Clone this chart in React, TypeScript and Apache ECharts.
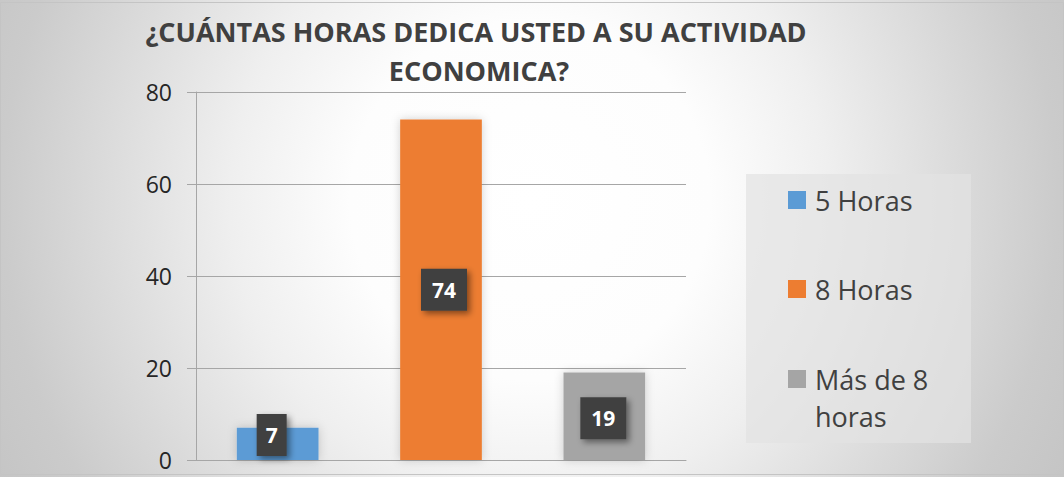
import React, { useEffect, useRef } from "react";
import * as echarts from "echarts";

const titleLines = ["¿CUÁNTAS HORAS DEDICA USTED A SU ACTIVIDAD", "ECONOMICA?"];
const categories = ["5 Horas", "8 Horas", "Más de 8 horas"];
const seriesNames = ["5 Horas", "8 Horas", "Más de 8 horas"];
const legendTexts = ["5 Horas", "8 Horas", " \nMás de 8\nhoras"];
const values = [7, 74, 19];
const colors = ["#5b9bd5", "#ed7d31", "#a5a5a5"];
const yTicks = { min: 0, max: 80, interval: 20 };

export default function App() {
  const ref = useRef<HTMLDivElement>(null);
  useEffect(() => {
    if (!ref.current) return;
    const chart = echarts.init(ref.current, undefined, { renderer: "svg" });
    const labelBase = {
      show: true,
      position: "inside",
      color: "#ffffff",
      fontFamily: "Open Sans",
      fontWeight: "bold",
      fontSize: 21,
      lineHeight: 22,
      backgroundColor: "#404040",
      padding: [10, 11, 10, 11],
      shadowColor: "rgba(0,0,0,0.45)",
      shadowBlur: 6,
      shadowOffsetX: 3,
      shadowOffsetY: 3,
    };
    const series = seriesNames.map((name, i) => ({
      name,
      type: "bar",
      stack: "all",
      barWidth: "50%",
      data: categories.map((_, j) => (j === i ? values[i] : "-")),
      itemStyle: {
        color: colors[i],
        shadowColor: "rgba(0,0,0,0.18)",
        shadowBlur: 10,
      },
      label: {
        ...labelBase,
        padding: i === 0 ? [10, 9, 10, 9] : [10, 11, 10, 11],
        offset: i === 0 ? [-6, -9] : i === 1 ? [3, 0] : [-1, 2],
      },
    }));
    const legendCenters = [200, 289, 379];
    const legendHeights = [37, 37, 111];
    const legends = seriesNames.map((n, i) => ({
      orient: "vertical",
      left: 788,
      top: legendCenters[i] - legendHeights[i] / 2,
      padding: 0,
      data: [n],
      formatter: () => legendTexts[i],
      icon: "rect",
      itemWidth: 18,
      itemHeight: 18,
      textStyle: {
        fontFamily: "Open Sans",
        fontSize: 27,
        lineHeight: 37,
        color: "#404040",
        padding: [0, 0, 0, 4],
      },
    }));
    chart.setOption({
      animation: false,
      backgroundColor: {
        type: "radial",
        x: 530,
        y: 200,
        r: 600,
        global: true,
        colorStops: [
          { offset: 0, color: "#ffffff" },
          { offset: 0.3, color: "#fdfdfd" },
          { offset: 0.5, color: "#efefef" },
          { offset: 0.7, color: "#dcdcdc" },
          { offset: 0.88, color: "#cbcbcb" },
          { offset: 1, color: "#c5c5c5" },
        ],
      },
      grid: { left: 196, right: 378, top: 92, bottom: 17 },
      graphic: [
        {
          type: "rect",
          z: -1,
          shape: { x: 746, y: 174, width: 225, height: 269 },
          style: { fill: "rgba(226,226,226,0.7)" },
        },
        {
          type: "rect",
          z: -1,
          shape: { x: 0.5, y: 2.5, width: 1063, height: 472 },
          style: { fill: "none", stroke: "#c4c4c4", lineWidth: 1 },
        },
        ...titleLines.map((t, i) => ({
          type: "text",
          x: i === 0 ? 476 : 479,
          y: i === 0 ? 31 : 70,
          style: {
            text: t,
            align: "center",
            verticalAlign: "middle",
            fill: "#404040",
            font: "bold 27px 'Open Sans'",
          },
        })),
      ],
      legend: legends,
      xAxis: {
        type: "category",
        data: categories,
        axisLine: { show: true, lineStyle: { color: "#a6a6a6", width: 1 } },
        axisTick: { show: false },
        axisLabel: { show: false },
      },
      yAxis: {
        type: "value",
        min: yTicks.min,
        max: yTicks.max,
        interval: yTicks.interval,
        axisLine: { show: true, lineStyle: { color: "#a6a6a6", width: 1 } },
        axisTick: { show: true, length: 9, lineStyle: { color: "#a6a6a6" } },
        splitLine: { show: true, lineStyle: { color: "#a6a6a6", width: 1 } },
        axisLabel: {
          margin: 24,
          fontFamily: "Open Sans",
          fontSize: 23,
          color: "#262626",
        },
      },
      series,
    });
    return () => chart.dispose();
  }, []);
  return (
    <div
      ref={ref}
      style={{ position: "absolute", left: 0, top: 0, width: 1064, height: 477 }}
    />
  );
}
